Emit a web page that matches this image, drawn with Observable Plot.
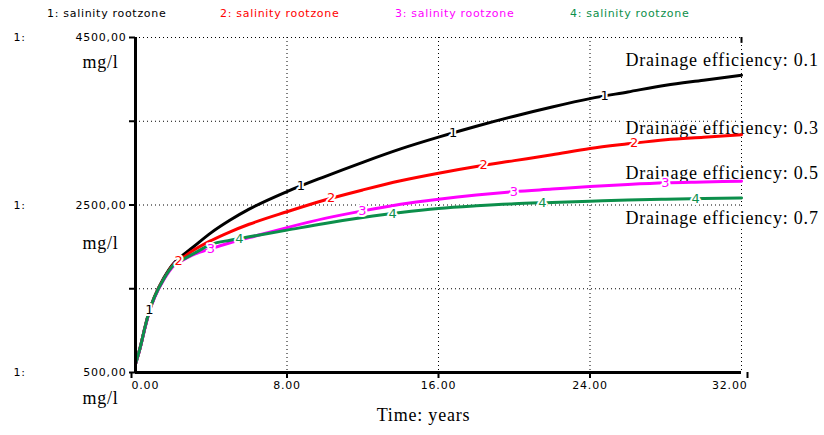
<!DOCTYPE html>
<html><head><meta charset="utf-8">
<script src="https://cdn.jsdelivr.net/npm/d3@7"></script>
<script src="https://cdn.jsdelivr.net/npm/@observablehq/plot@0.6"></script>
<style>
body{margin:0;background:#fff;}
#legend{position:relative;height:28px;width:824px;font-family:"DejaVu Sans";font-size:11px;letter-spacing:0.7px;}
#legend span{position:absolute;top:7px;white-space:nowrap;}
#chart svg text{letter-spacing:0.8px;}
#chart svg g[font-family="Liberation Serif"] text{letter-spacing:0.8px;}
</style></head><body>
<div id="legend"></div><div id="chart"></div>
<script>
// ---- data ----
const time = [0,0.25,0.5,0.75,1,1.5,2,2.5,3,4,5,6,8,10,12,14,16,18,20,22,24,26,28,30,32];
const run1 = [600,800,1040,1250,1400,1630,1800,1900,1990,2170,2320,2450,2660,2840,3010,3170,3310,3440,3560,3670,3770,3850,3930,3990,4050];
const run2 = [600,800,1040,1250,1400,1620,1790,1870,1950,2076,2180,2270,2420,2560,2680,2790,2880,2960,3030,3100,3175,3230,3280,3310,3340];
const run3 = [600,795,1030,1240,1390,1610,1770,1840,1900,1980,2050,2110,2230,2340,2430,2510,2570,2620,2660,2690,2720,2745,2765,2775,2785];
const run4 = [600,800,1040,1250,1400,1620,1780,1850,1910,2030,2080,2120,2200,2280,2350,2410,2458,2490,2515,2530,2545,2560,2570,2578,2585];
const seriesNames = ["1: salinity rootzone","2: salinity rootzone","3: salinity rootzone","4: salinity rootzone"];
const seriesIds = ["1","2","3","4"];
const labelTimes = [[0.75,8.75,16.8,24.8],[2.3,10.35,18.4,26.35],[4.0,12.0,20.0,28.0],[5.5,13.6,21.5,29.6]];
const annotLabels = ["Drainage efficiency: 0.1","Drainage efficiency: 0.3","Drainage efficiency: 0.5","Drainage efficiency: 0.7"];
const annotY = [4225,3413,2876,2339];
const annotX = 25.87;
const xTicks = [0,8,16,24,32];
const yTicks = [500,1500,2500,3500,4500];
const yLabeled = [500,2500,4500];
const gridY = [1500,2500,3500,4500];
const gridX = [8,16,24,32];

const colors = ["#000000","#ff0000","#ff00ff","#0c8f4b"];
const runs = [run1,run2,run3,run4];

// legend
const legend = document.getElementById("legend");
const legendLeft = [47,220,395,570];
seriesNames.forEach((n,i)=>{
  const s=document.createElement("span");
  s.textContent=n; s.style.left=legendLeft[i]+"px"; s.style.color=colors[i];
  legend.appendChild(s);
});

const rows = runs.flatMap((r,k)=>time.map((t,i)=>({t, v:r[i], s:seriesIds[k]})));
function interp(vs,t){
  const i = Math.min(d3.bisectRight(time,t), time.length-1);
  const t0=time[i-1], t1=time[i];
  return vs[i-1]+(vs[i]-vs[i-1])*(t-t0)/(t1-t0);
}
const labelRows = labelTimes.flatMap((ts,k)=>ts.map(t=>({t, v:interp(runs[k],t), s:seriesIds[k]})));
const annRows = annotLabels.map((a,i)=>({t:annotX, v:annotY[i], a}));
const serif = "Liberation Serif";

const chart = Plot.plot({
  width: 824, height: 407,
  marginTop: 9, marginBottom: 63, marginLeft: 135, marginRight: 83,
  x: {domain:[0,32]},
  y: {domain:[500,4500]},
  color: {domain: seriesIds, range: colors},
  style: {fontFamily:"DejaVu Sans", fontSize:"11px", color:"black", background:"white", overflow:"visible"},
  marks: [
    Plot.ruleY(gridY, {stroke:"black", strokeDasharray:"1,3", strokeWidth:1}),
    Plot.ruleX(gridX, {stroke:"black", strokeDasharray:"1,3", strokeWidth:1}),
    Plot.text(annRows, {x:"t", y:"v", text:"a", textAnchor:"start", fontFamily:serif, fontSize:18, fill:"black", stroke:"white", strokeWidth:6}),
    ...seriesIds.map(id => Plot.line(rows.filter(d=>d.s===id), {x:"t", y:"v", stroke:"s", strokeWidth:3, curve:"monotone-x"})),
    Plot.text(labelRows, {x:"t", y:"v", text:"s", fill:"s", stroke:"white", strokeWidth:4, fontSize:13, fontFamily:"DejaVu Sans"}),
    Plot.ruleX([32], {y1:4500, y2:4430, strokeWidth:2}),
    Plot.axisY(yTicks, {tickSize:6, tickPadding:3, strokeWidth:2, tickFormat: d => yLabeled.includes(d) ? d.toFixed(2).replace(".", ",") : "", label:null}),
    Plot.axisY(yLabeled, {tickSize:0, tickPadding:0, textAnchor:"start", dx:-122, tickFormat: () => "1:", label:null}),
    Plot.axisX(xTicks.slice(1,-1), {tickSize:6, tickPadding:3, strokeWidth:2, tickFormat: d => d.toFixed(2), label:null}),
    Plot.axisX([xTicks[0]], {tickSize:6, tickPadding:3, strokeWidth:2, textAnchor:"start", dx:-4, tickFormat: d => d.toFixed(2), label:null}),
    Plot.axisX([xTicks[xTicks.length-1]], {tickSize:6, tickPadding:3, strokeWidth:2, textAnchor:"end", dx:6, tickFormat: d => d.toFixed(2), label:null}),
    Plot.ruleX([0], {strokeWidth:3}),
    Plot.ruleY([500], {strokeWidth:3}),
    Plot.text(["mg/l"], {y:()=>4500, frameAnchor:"left", dx:-35, dy:25, textAnchor:"middle", fontFamily:serif, fontSize:18}),
    Plot.text(["mg/l"], {y:()=>2500, frameAnchor:"left", dx:-35, dy:38, textAnchor:"middle", fontFamily:serif, fontSize:18}),
    Plot.text(["mg/l"], {y:()=>500, frameAnchor:"left", dx:-35, dy:26, textAnchor:"middle", fontFamily:serif, fontSize:18}),
    Plot.text(["Time: years"], {frameAnchor:"bottom", dx:-15, dy:48, fontFamily:serif, fontSize:18})
  ]
});
document.getElementById("chart").appendChild(chart);
</script>
</body></html>
